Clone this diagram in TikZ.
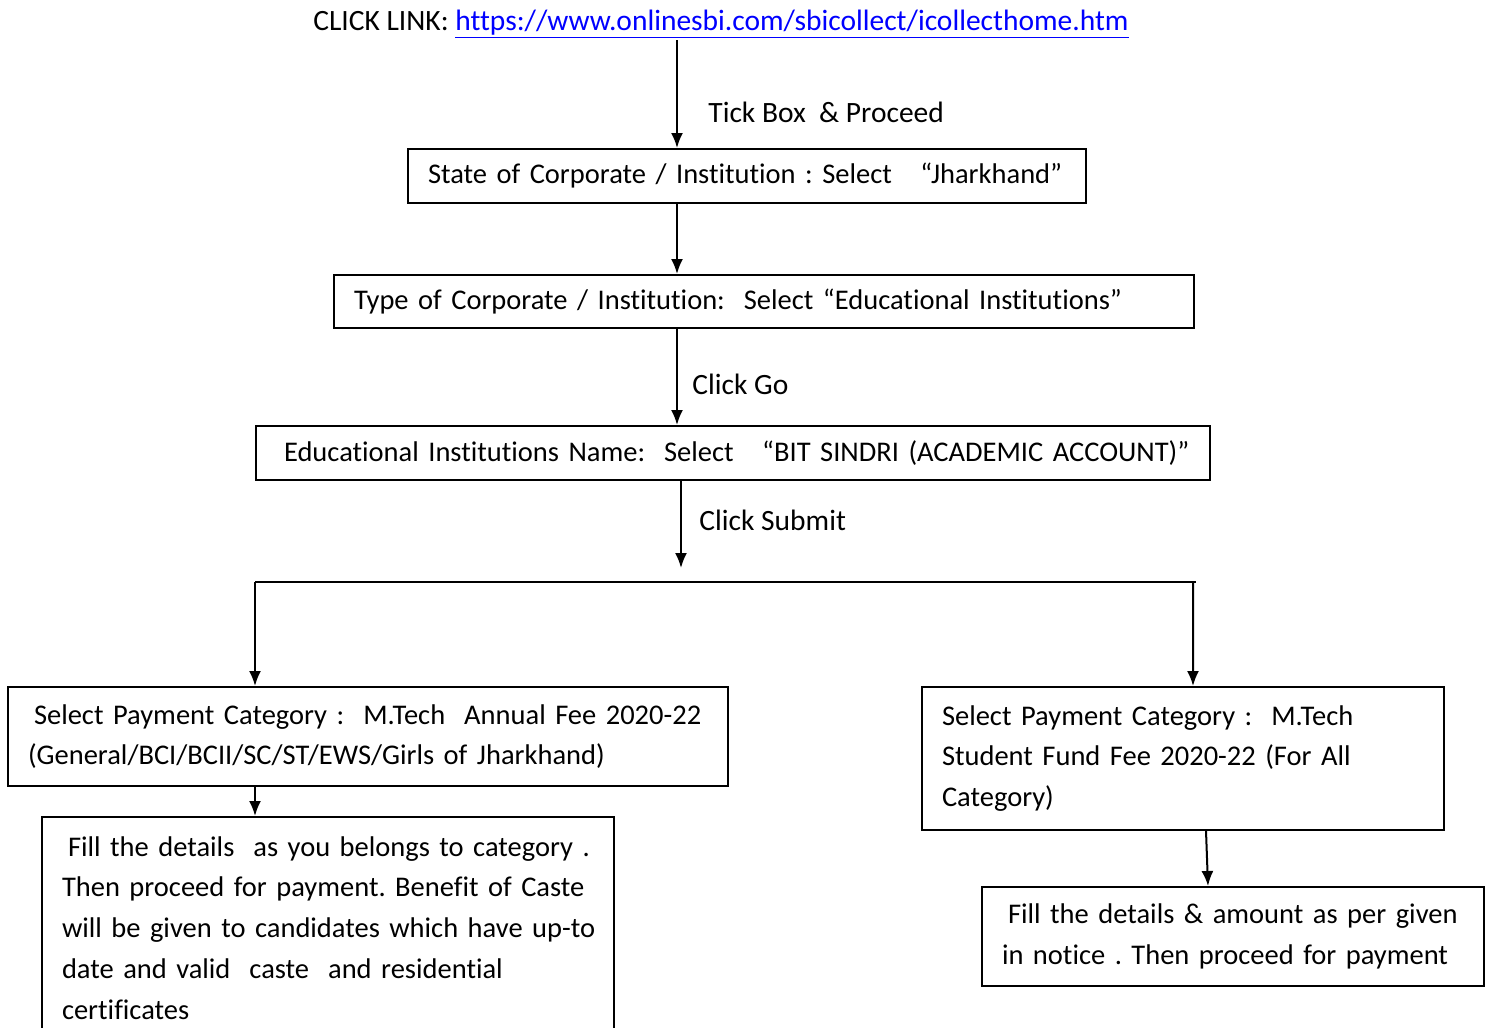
\documentclass[tikz,border=0pt]{standalone}
\usepackage{fontspec}
\setmainfont{Carlito}[Ligatures=CommonOff]
\usetikzlibrary{arrows.meta,positioning}
\tikzset{>={Latex[length=7.5bp,width=6bp]}}
\definecolor{linkblue}{rgb}{0.0,0.0,1.0}
\newcommand{\boxfont}{\fontsize{14.3}{20.5}\selectfont\fontdimen2\font=0.2em\relax}
\newcommand{\lblfont}{\fontsize{14.8}{20.5}\selectfont}
\tikzset{
  stepbox/.style={draw, line width=1bp, anchor=north west, align=left,
    inner xsep=9bp, inner ysep=0pt},
  lbl/.style={anchor=base west, inner sep=0pt, font=\lblfont},
  arr/.style={->, line width=1bp},
}

\begin{document}
\frenchspacing
\begin{tikzpicture}[x=0.5bp, y=-0.5bp, font=\boxfont]
      \clip (0,0) rectangle (1488,1027);
      % heading with link
      \node[anchor=base, inner sep=0pt, font=\lblfont] (title) at (721,30)
        {CLICK LINK: \textcolor{linkblue}{\underline{https://www.onlinesbi.com/sbicollect/icollecthome.htm}}};
      %
      \node[stepbox, text width=321bp, minimum height=27bp] (state) at (407,148)
        {\hspace*{1bp}State of Corporate / Institution : Select\ \ \ “Jharkhand”};
      \node[stepbox, text width=412bp, minimum height=26.5bp] (type) at (333,274)
        {\hspace*{1bp}Type of Corporate / Institution:\ \ Select “Educational Institutions”};
      \node[stepbox, text width=459bp, minimum height=27bp] (inst) at (255,425)
        {\hspace*{5bp}Educational Institutions Name:\ \ Select\ \ \ “BIT SINDRI (ACADEMIC ACCOUNT)”};
      \node[stepbox, text width=342bp, minimum height=49.5bp] (annual) at (7,686)
        {\hspace*{4bp}Select Payment Category :\ \ M.Tech\ \ Annual Fee 2020-22\\
         \hspace*{1bp}(General/BCI/BCII/SC/ST/EWS/Girls of Jharkhand)};
      \node[stepbox, text width=268bp, minimum height=111bp] (fillA) at (41,816)
        {\hspace*{4bp}Fill the details\ \ as you belongs to category .\\
         \hspace*{1bp}Then proceed for payment. Benefit of Caste\\
         \hspace*{1bp}will be given to candidates which have up-to\\
         \hspace*{1bp}date and valid\ \ caste\ \ and residential\\
         \hspace*{1bp}certificates};
      \node[stepbox, text width=243bp, minimum height=71.5bp] (fund) at (921,686)
        {\hspace*{1bp}Select Payment Category :\ \ M.Tech\\
         \hspace*{1bp}Student Fund Fee 2020-22 (For All\\
         \hspace*{1bp}Category)};
      \node[stepbox, text width=233bp, minimum height=49.5bp] (fillB) at (981,886)
        {\hspace*{4bp}Fill the details \& amount as per given\\
         \hspace*{1bp}in notice . Then proceed for payment};
      %
      \node[lbl] (tick) at (708,122) {Tick Box\ \ \& Proceed};
      \node[lbl] (go) at (692,394) {Click Go};
      \node[lbl] (submit) at (699,530) {Click Submit};
      %
      \coordinate (top) at (677,40);
      \coordinate (split) at (681,568);
      \coordinate (barL) at (255,582);
      \coordinate (barR) at (1196,582);
      \draw[arr] (top) -- (top |- state.north);
      \draw[arr] (state.south -| top) -- (type.north -| top);
      \draw[arr] (type.south -| top) -- (inst.north -| top);
      \draw[arr] (inst.south -| split) -- (split);
      \draw[line width=1bp] (barL) -- (barR);
      \draw[arr] (barL) -- (barL |- annual.north);
      \draw[arr] (barR) ++(-3,0) -- ([xshift=-1.5bp]barR |- fund.north);
      \draw[arr] (annual.south -| barL) -- (fillA.north -| barL);
      \draw[arr] ([xshift=142.5bp]fund.south west) -- ([xshift=113.5bp]fillB.north west);
    \end{tikzpicture}
\end{document}
